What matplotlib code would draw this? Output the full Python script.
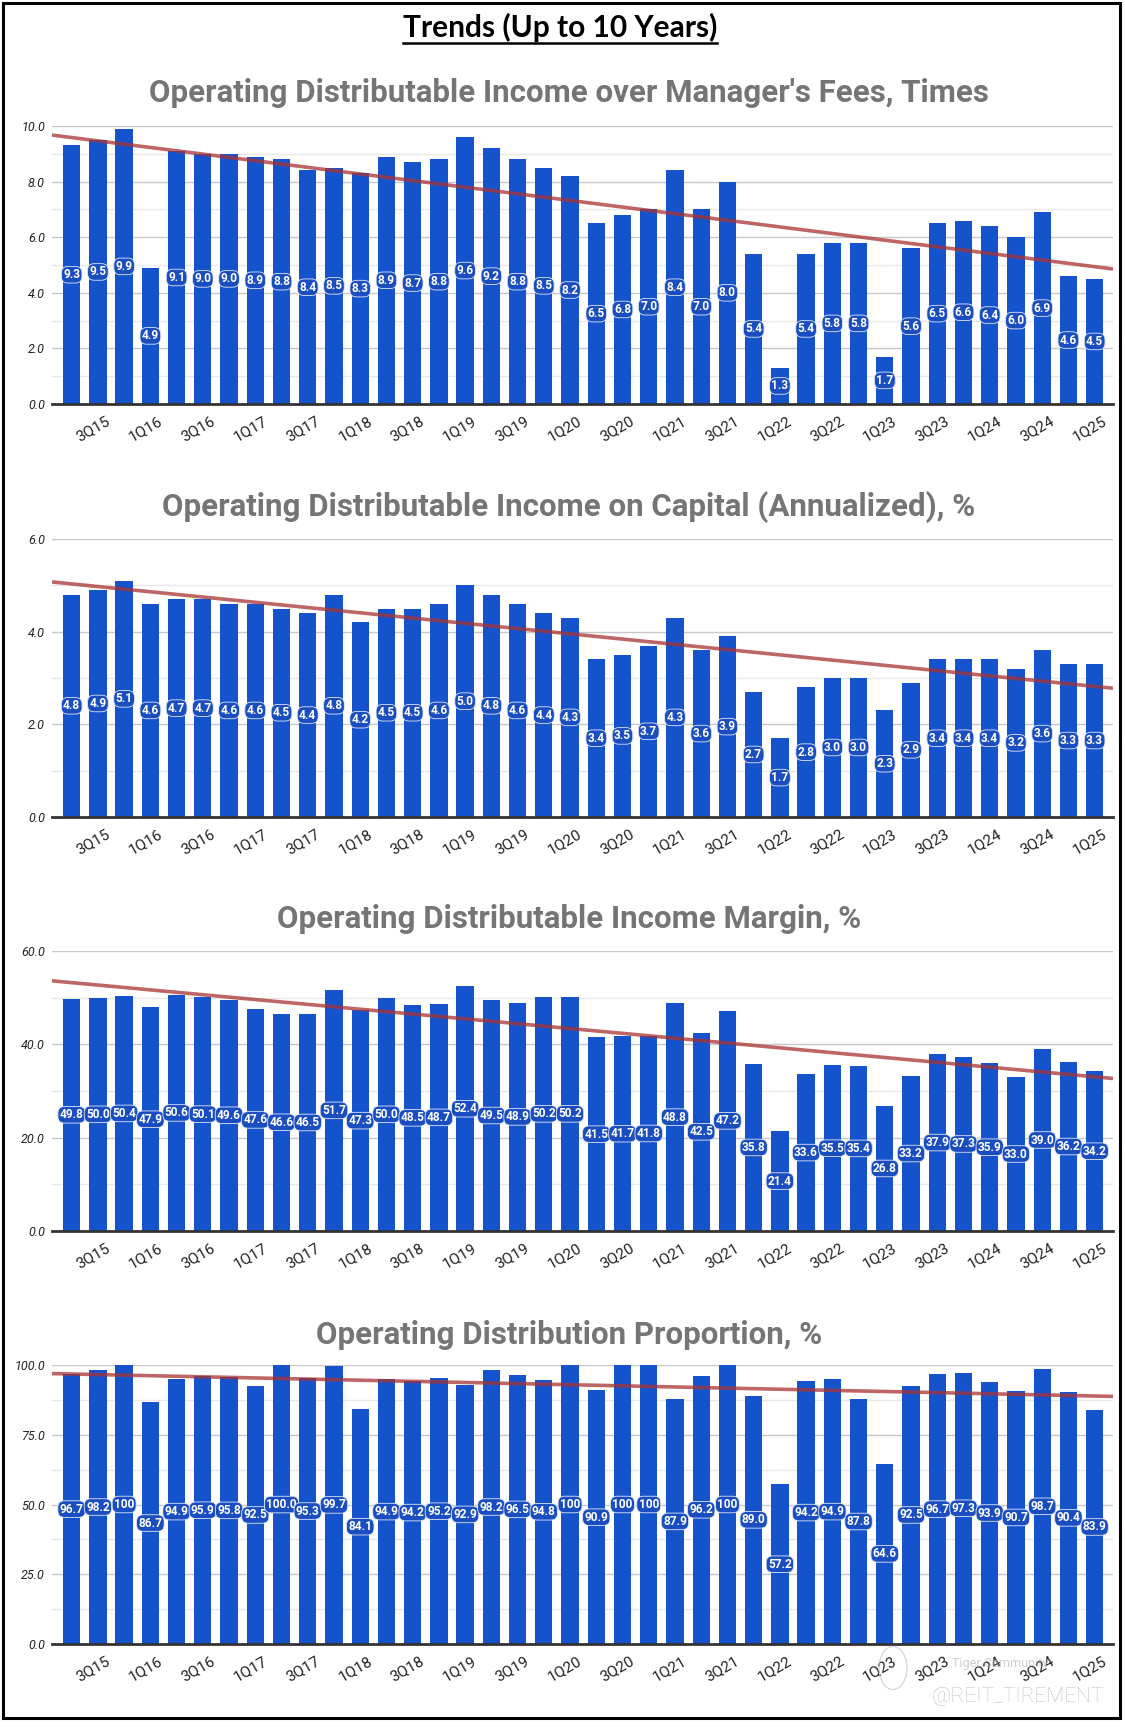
import numpy as np
import matplotlib
matplotlib.use("Agg")
import matplotlib.pyplot as plt
import matplotlib.transforms as mtransforms
from matplotlib.lines import Line2D
from matplotlib.patches import Rectangle, Circle

# ---------------- data ----------------
quarters = ["2Q15", "3Q15", "4Q15", "1Q16", "2Q16", "3Q16", "4Q16", "1Q17", "2Q17", "3Q17",
            "4Q17", "1Q18", "2Q18", "3Q18", "4Q18", "1Q19", "2Q19", "3Q19", "4Q19", "1Q20",
            "2Q20", "3Q20", "4Q20", "1Q21", "2Q21", "3Q21", "4Q21", "1Q22", "2Q22", "3Q22",
            "4Q22", "1Q23", "2Q23", "3Q23", "4Q23", "1Q24", "2Q24", "3Q24", "4Q24", "1Q25"]

income_over_fees = [9.3, 9.5, 9.9, 4.9, 9.1, 9.0, 9.0, 8.9, 8.8, 8.4,
                    8.5, 8.3, 8.9, 8.7, 8.8, 9.6, 9.2, 8.8, 8.5, 8.2,
                    6.5, 6.8, 7.0, 8.4, 7.0, 8.0, 5.4, 1.3, 5.4, 5.8,
                    5.8, 1.7, 5.6, 6.5, 6.6, 6.4, 6.0, 6.9, 4.6, 4.5]

income_on_capital = [4.8, 4.9, 5.1, 4.6, 4.7, 4.7, 4.6, 4.6, 4.5, 4.4,
                     4.8, 4.2, 4.5, 4.5, 4.6, 5.0, 4.8, 4.6, 4.4, 4.3,
                     3.4, 3.5, 3.7, 4.3, 3.6, 3.9, 2.7, 1.7, 2.8, 3.0,
                     3.0, 2.3, 2.9, 3.4, 3.4, 3.4, 3.2, 3.6, 3.3, 3.3]

income_margin = [49.8, 50.0, 50.4, 47.9, 50.6, 50.1, 49.6, 47.6, 46.6, 46.5,
                 51.7, 47.3, 50.0, 48.5, 48.7, 52.4, 49.5, 48.9, 50.2, 50.2,
                 41.5, 41.7, 41.8, 48.8, 42.5, 47.2, 35.8, 21.4, 33.6, 35.5,
                 35.4, 26.8, 33.2, 37.9, 37.3, 35.9, 33.0, 39.0, 36.2, 34.2]

distribution_proportion = [96.7, 98.2, 100, 86.7, 94.9, 95.9, 95.8, 92.5, 99.96, 95.3,
                           99.7, 84.1, 94.9, 94.2, 95.2, 92.9, 98.2, 96.5, 94.8, 100,
                           90.9, 100, 100, 87.9, 96.2, 100, 89.0, 57.2, 94.2, 94.9,
                           87.8, 64.6, 92.5, 96.7, 97.3, 93.9, 90.7, 98.7, 90.4, 83.9]

titles = ["Operating Distributable Income over Manager's Fees, Times",
          "Operating Distributable Income on Capital (Annualized), %",
          "Operating Distributable Income Margin, %",
          "Operating Distribution Proportion, %"]
main_title = "Trends (Up to 10 Years)"
watermark = "@REIT_TIREMENT"

series = [income_over_fees, income_on_capital, income_margin, distribution_proportion]
yticks = [[0, 2, 4, 6, 8, 10], [0, 2, 4, 6], [0, 20, 40, 60], [0, 25, 50, 75, 100]]

# ---------------- style ----------------
W, H = 1125, 1727
DPI = 100
BAR = "#1553cc"
TREND = "#a83232"
fig = plt.figure(figsize=(W / DPI, H / DPI), dpi=DPI)
fig.patch.set_facecolor("white")

# frame border
fig.add_artist(Rectangle((3 / W, 1 - 1718 / H), 1117 / W, 1715 / H, transform=fig.transFigure,
                         fill=False, ec="black", lw=2.2))

def px_axes(left, top, right, bottom):
    return fig.add_axes([left / W, 1 - bottom / H, (right - left) / W, (bottom - top) / H])

tops = [126, 539, 951, 1365]
bottoms = [404, 817, 1231, 1644]
title_y = [93, 507, 919, 1335]

x = np.arange(len(quarters))

for k in range(4):
    vals = np.array(series[k], dtype=float)
    ax = px_axes(52, tops[k], 1113, bottoms[k])
    ax.set_xlim(-0.75, len(quarters) - 0.3)
    yt = yticks[k]
    ax.set_ylim(yt[0], yt[-1])
    ax.set_yticks(yt)
    ax.set_yticks([(a + b) / 2 for a, b in zip(yt[:-1], yt[1:])], minor=True)
    ax.set_yticklabels([f"{t:.1f}" for t in yt], fontstyle="italic", fontsize=9,
                       color="#222222", family="Roboto")
    ax.grid(axis="y", which="major", color="#c8c8c8", lw=1.0)
    ax.grid(axis="y", which="minor", color="#e8e8e8", lw=1.0)
    ax.set_axisbelow(True)
    ax.tick_params(axis="y", which="both", length=0, pad=5)
    for s in ["top", "right", "left"]:
        ax.spines[s].set_visible(False)
    ax.spines["bottom"].set_color("#333333")
    ax.spines["bottom"].set_linewidth(2.0)
    ax.spines["bottom"].set_zorder(5)

    ax.bar(x, vals, width=0.66, color=BAR, zorder=2)

    # linear trendline
    coef = np.polyfit(x, vals, 1)
    xl = np.array(ax.get_xlim())
    ax.plot(xl, np.polyval(coef, xl), color=TREND, alpha=0.75, lw=2.6, zorder=3,
            solid_capstyle="butt")

    for xi, v in zip(x, vals):
        lab = "100" if v == 100 else f"{v:.1f}"
        ax.text(xi, v / 2, lab, ha="center", va="center", color="white", fontsize=8.6,
                fontweight="bold", family="Roboto", zorder=4,
                bbox=dict(boxstyle="round,pad=0.15,rounding_size=0.55", fc="#1a4dbf",
                          ec="#dfe6f7", lw=0.6))

    ax.set_xticks(x[1::2])
    ax.set_xticklabels(quarters[1::2], rotation=30, ha="center", fontsize=11,
                       color="#222222", family="Roboto")
    ax.tick_params(axis="x", length=0, pad=7)
    off = mtransforms.ScaledTranslation(-5 / DPI, 0, fig.dpi_scale_trans)
    for lbl in ax.get_xticklabels():
        lbl.set_transform(lbl.get_transform() + off)

    fig.text(569 / W, 1 - title_y[k] / H, titles[k], ha="center", va="center",
             fontsize=22.5, fontweight="bold", color="#757575", family="Roboto")

# main title with underline
t = fig.text(560 / W, 1 - 27 / H, main_title, ha="center", va="center", fontsize=21.5,
             fontweight="bold", color="black", family="Lato")
fig.canvas.draw()
bb = t.get_window_extent(renderer=fig.canvas.get_renderer())
uy = bb.y0 - 1
fig.add_artist(Line2D([bb.x0 / W, bb.x1 / W], [uy / H, uy / H], transform=fig.transFigure,
                      color="black", lw=1.8))

# watermarks
fig.add_artist(Circle((893 / W, 1 - 1668 / H), 14 / W, transform=fig.transFigure, fill=False,
                      ec="#c8c8c8", lw=1.0, alpha=0.7))
fig.text(1000 / W, 1 - 1664 / H, "Tiger Community", ha="center", va="center", fontsize=9,
         color="#b0b0b0", alpha=0.6, family="Roboto")
fig.text(1018 / W, 1 - 1697 / H, watermark, ha="center", va="center", fontsize=15,
         color="#c4c4c4", family="Roboto", fontweight="light")

fig.savefig("out.png", dpi=DPI)
